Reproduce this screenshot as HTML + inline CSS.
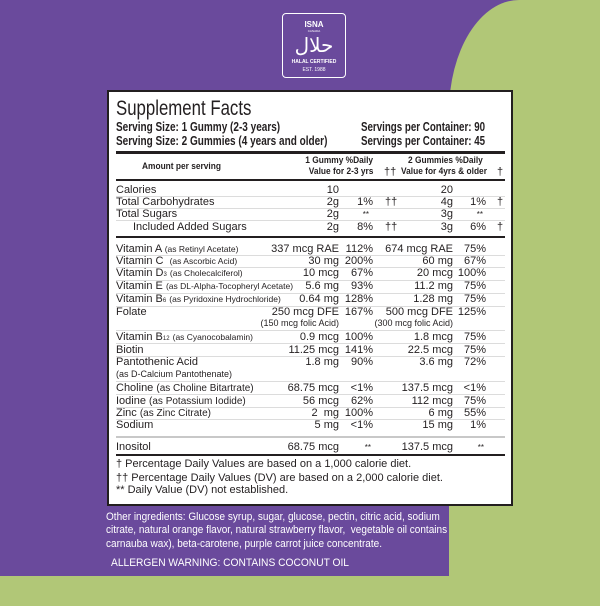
<!DOCTYPE html>
<html><head><meta charset="utf-8">
<style>
*{margin:0;padding:0;box-sizing:border-box}
body{width:600px;height:600px;position:relative;overflow:hidden;background:#6a4a9c;font-family:"Liberation Sans",Arial,sans-serif;color:#231f20}
.green1{position:absolute;left:449px;top:0;width:200px;height:600px;background:#b1c777;border-top-left-radius:70px 112px}
.green2{position:absolute;left:0;top:576px;width:600px;height:30px;background:#b1c777}
.logo{position:absolute;left:282px;top:13px;width:64px;height:65px;border:1.5px solid #fff;border-radius:4px;color:#fff;text-align:center}
.box{position:absolute;left:107px;top:90px;width:406px;height:416px;background:#fff;border:2px solid #231f20}
.t{position:absolute;white-space:nowrap;line-height:13px;font-size:11px}
.r{position:absolute;left:0;width:600px;height:13px}
.r span{position:absolute;top:0;white-space:nowrap;line-height:13px;font-size:11px}
.l{left:116px}.a1{right:261px}.d1{right:227px}.t1{left:385px}.a2{right:147px}.d2{right:114px}.t2{left:497px}
small{font-size:8.5px}
.hr{position:absolute;left:116px;width:389px;background:#231f20}
.lr{position:absolute;left:116px;width:389px;height:1px;background:#dcdcdc}
.cond{transform-origin:0 0;font-weight:bold;font-size:13px;line-height:14px}
.hd{position:absolute;white-space:nowrap;font-weight:bold;font-size:9.5px;line-height:12px}
.hr2{transform:scaleX(0.88);transform-origin:100% 0}
.hl2{transform:scaleX(0.88);transform-origin:0 0}
.w{position:absolute;color:#fff;white-space:nowrap;font-size:11px;line-height:14px}
</style></head><body>
<div class="green1"></div><div class="green2"></div>
<div class="logo">
 <div style="position:absolute;top:6px;left:0;width:100%;font-size:8px;font-weight:bold;line-height:9px">ISNA</div>
 <div style="position:absolute;top:15px;left:0;width:100%;font-size:3px;line-height:4px">CANADA</div>
 <div style="position:absolute;top:19px;left:0;width:100%;font-family:'DejaVu Sans',sans-serif;font-size:20px;line-height:24px">حلال</div>
 <div style="position:absolute;top:45px;left:0;width:100%;font-size:5px;font-weight:bold;line-height:6px">HALAL CERTIFIED</div>
 <div style="position:absolute;top:53px;left:0;width:100%;font-size:5px;line-height:6px">EST. 1988</div>
</div>
<div class="box"></div>

<div class="t" style="left:116px;top:96px;font-size:21px;line-height:25px;transform:scaleX(0.8);transform-origin:0 0">Supplement Facts</div>
<div class="t cond" style="left:116px;top:120px;transform:scaleX(0.77)">Serving Size: 1 Gummy (2-3 years)</div>
<div class="t cond" style="left:116px;top:134px;transform:scaleX(0.77)">Serving Size: 2 Gummies (4 years and older)</div>
<div class="t cond" style="left:361px;top:120px;transform:scaleX(0.75)">Servings per Container: 90</div>
<div class="t cond" style="left:361px;top:134px;transform:scaleX(0.75)">Servings per Container: 45</div>

<div class="hr" style="top:151px;height:2.5px"></div>
<div class="hd hl2" style="left:142px;top:161px">Amount per serving</div>
<div class="hd hr2" style="right:227px;top:155px">1 Gummy %Daily</div>
<div class="hd hr2" style="right:227px;top:166px">Value for 2-3 yrs</div>
<div class="hd" style="left:384px;top:166px;font-weight:normal;font-size:11px">††</div>
<div class="hd hl2" style="left:408px;top:155px">2 Gummies %Daily</div>
<div class="hd hl2" style="left:401px;top:166px">Value for 4yrs &amp; older</div>
<div class="hd" style="left:497px;top:166px;font-weight:normal;font-size:11px">†</div>
<div class="hr" style="top:179px;height:2px"></div>

<div class="r" style="top:183.5px"><span class="l">Calories</span><span class="a1">10</span><span class="a2">20</span></div>
<div class="lr" style="top:196px"></div>
<div class="r" style="top:195.5px"><span class="l">Total Carbohydrates</span><span class="a1">2g</span><span class="d1">1%</span><span class="t1">††</span><span class="a2">4g</span><span class="d2">1%</span><span class="t2">†</span></div>
<div class="lr" style="top:208px"></div>
<div class="r" style="top:207.5px"><span class="l">Total Sugars</span><span class="a1">2g</span><span class="d1" style="right:231px;font-size:8px">**</span><span class="a2">3g</span><span class="d2" style="right:117px;font-size:8px">**</span></div>
<div class="lr" style="top:220px"></div>
<div class="r" style="top:220.5px"><span class="l" style="left:133px">Included Added Sugars</span><span class="a1">2g</span><span class="d1">8%</span><span class="t1">††</span><span class="a2">3g</span><span class="d2">6%</span><span class="t2">†</span></div>
<div class="hr" style="top:236px;height:2px"></div>

<div class="r" style="top:242.5px"><span class="l">Vitamin A <small>(as Retinyl Acetate)</small></span><span class="a1">337 mcg RAE</span><span class="d1">112%</span><span class="a2">674 mcg RAE</span><span class="d2">75%</span></div>
<div class="lr" style="top:255px"></div>
<div class="r" style="top:254.5px"><span class="l">Vitamin C &nbsp;<small>(as Ascorbic Acid)</small></span><span class="a1">30 mg</span><span class="d1">200%</span><span class="a2">60 mg</span><span class="d2">67%</span></div>
<div class="lr" style="top:267px"></div>
<div class="r" style="top:266.5px"><span class="l">Vitamin D<small style="font-size:6px">3</small> <small>(as Cholecalciferol)</small></span><span class="a1">10 mcg</span><span class="d1">67%</span><span class="a2">20 mcg</span><span class="d2">100%</span></div>
<div class="lr" style="top:280px"></div>
<div class="r" style="top:279.5px"><span class="l">Vitamin E <small>(as DL-Alpha-Tocopheryl Acetate)</small></span><span class="a1">5.6 mg</span><span class="d1">93%</span><span class="a2">11.2 mg</span><span class="d2">75%</span></div>
<div class="lr" style="top:293px"></div>
<div class="r" style="top:292.5px"><span class="l">Vitamin B<small style="font-size:6px">6</small> <small>(as Pyridoxine Hydrochloride)</small></span><span class="a1">0.64 mg</span><span class="d1">128%</span><span class="a2">1.28 mg</span><span class="d2">75%</span></div>
<div class="lr" style="top:306px"></div>
<div class="r" style="top:305.5px"><span class="l">Folate</span><span class="a1">250 mcg DFE</span><span class="d1">167%</span><span class="a2">500 mcg DFE</span><span class="d2">125%</span></div>
<div class="r" style="top:317px"><span class="a1" style="font-size:9px">(150 mcg folic Acid)</span><span class="a2" style="font-size:9px">(300 mcg folic Acid)</span></div>
<div class="lr" style="top:330px"></div>
<div class="r" style="top:330.5px"><span class="l">Vitamin B<small style="font-size:6px">12</small> <small>(as Cyanocobalamin)</small></span><span class="a1">0.9 mcg</span><span class="d1">100%</span><span class="a2">1.8 mcg</span><span class="d2">75%</span></div>
<div class="lr" style="top:343px"></div>
<div class="r" style="top:343.5px"><span class="l">Biotin</span><span class="a1">11.25 mcg</span><span class="d1">141%</span><span class="a2">22.5 mcg</span><span class="d2">75%</span></div>
<div class="lr" style="top:356px"></div>
<div class="r" style="top:355.5px"><span class="l">Pantothenic Acid</span><span class="a1">1.8 mg</span><span class="d1">90%</span><span class="a2">3.6 mg</span><span class="d2">72%</span></div>
<div class="r" style="top:368px"><span class="l" style="font-size:9px">(as D-Calcium Pantothenate)</span></div>
<div class="lr" style="top:381px"></div>
<div class="r" style="top:381.5px"><span class="l">Choline <small style="font-size:10px">(as Choline Bitartrate)</small></span><span class="a1">68.75 mcg</span><span class="d1">&lt;1%</span><span class="a2">137.5 mcg</span><span class="d2">&lt;1%</span></div>
<div class="lr" style="top:394px"></div>
<div class="r" style="top:394.5px"><span class="l">Iodine <small style="font-size:10px">(as Potassium Iodide)</small></span><span class="a1">56 mcg</span><span class="d1">62%</span><span class="a2">112 mcg</span><span class="d2">75%</span></div>
<div class="lr" style="top:407px"></div>
<div class="r" style="top:406.5px"><span class="l">Zinc <small style="font-size:10px">(as Zinc Citrate)</small></span><span class="a1">2 &nbsp;mg</span><span class="d1">100%</span><span class="a2">6 mg</span><span class="d2">55%</span></div>
<div class="lr" style="top:419px"></div>
<div class="r" style="top:418.5px"><span class="l">Sodium</span><span class="a1">5 mg</span><span class="d1">&lt;1%</span><span class="a2">15 mg</span><span class="d2">1%</span></div>
<div class="hr" style="top:436px;height:1.5px;background:#c8c8c8"></div>
<div class="r" style="top:440.5px"><span class="l">Inositol</span><span class="a1">68.75 mcg</span><span class="d1" style="right:229px;font-size:8px">**</span><span class="a2">137.5 mcg</span><span class="d2" style="right:116px;font-size:8px">**</span></div>
<div class="hr" style="top:454px;height:2px"></div>

<div class="t" style="left:116px;top:458px">† Percentage Daily Values are based on a 1,000 calorie diet.</div>
<div class="t" style="left:116px;top:472px">†† Percentage Daily Values (DV) are based on a 2,000 calorie diet.</div>
<div class="t" style="left:116px;top:484px">** Daily Value (DV) not established.</div>

<div class="w" style="left:106px;top:510px;transform:scaleX(0.91);transform-origin:0 0">Other ingredients: Glucose syrup, sugar, glucose, pectin, citric acid, sodium</div>
<div class="w" style="left:106px;top:523px;transform:scaleX(0.91);transform-origin:0 0">citrate, natural orange flavor, natural strawberry flavor, &nbsp;vegetable oil contains</div>
<div class="w" style="left:106px;top:537px;transform:scaleX(0.91);transform-origin:0 0">carnauba wax), beta-carotene, purple carrot juice concentrate.</div>
<div class="w" style="left:111px;top:556px;transform:scaleX(0.93);transform-origin:0 0">ALLERGEN WARNING: CONTAINS COCONUT OIL</div>
</body></html>
